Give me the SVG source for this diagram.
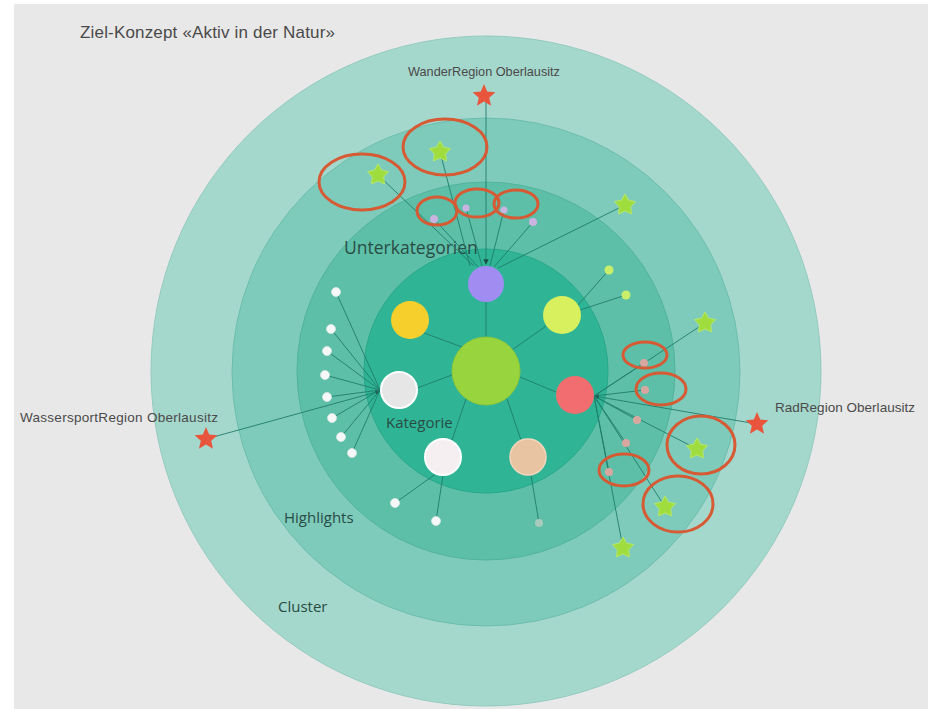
<svg xmlns="http://www.w3.org/2000/svg" width="928" height="709" viewBox="0 0 928 709">
<style>
.lbl{font-family:"Liberation Sans",Arial,sans-serif;fill:#4a4a4a}
.ring{font-family:"Open Sans","Liberation Sans",sans-serif;fill:#284c44}
.c{stroke:#1f7d6b;stroke-width:0.9;fill:none}
.hl{fill:none;stroke:#d65a34;stroke-width:3}
.dotw{fill:#f6f8f7;stroke:#d8e6e2;stroke-width:0.8}
.dotg{fill:#c9ef6a}
.dotp{fill:#c9b3e0}
.dots{fill:#d8a7a0}
</style>
<defs>
<polygon id="starR" points="0,-12 3.2,-4.4 11.4,-3.7 5.2,1.7 7.05,9.7 0,5.5 -7.05,9.7 -5.2,1.7 -11.4,-3.7 -3.2,-4.4" fill="#e8553c"/>
<polygon id="starG" points="0,-11 3.5,-4.8 10.46,-3.4 5.7,1.85 6.47,8.9 0,6 -6.47,8.9 -5.7,1.85 -10.46,-3.4 -3.5,-4.8" fill="#9fdc3e" stroke="#b6e86a" stroke-width="1"/>
<marker id="arr" viewBox="0 0 8 8" refX="7" refY="4" markerWidth="6" markerHeight="6" orient="auto"><path d="M0,0L8,4L0,8z" fill="#1a4f46"/></marker>
</defs>
<rect x="0" y="0" width="928" height="709" fill="#ffffff"/>
<rect x="14" y="4" width="914" height="705" fill="#e8e8e8"/>
<g id="rings">
<circle cx="486" cy="371" r="335" fill="#a5d8cc" stroke="#93cbbe" stroke-width="1"/>
<circle cx="486" cy="372" r="254" fill="#7ecbbb" stroke="#6dbdad" stroke-width="1"/>
<circle cx="486" cy="371" r="189" fill="#5ebfa8" stroke="#52b39d" stroke-width="1"/>
<circle cx="486" cy="371" r="122" fill="#2fb596" stroke="#28a889" stroke-width="1"/>
</g>
<text class="lbl" x="80" y="38" font-size="17" textLength="255">Ziel-Konzept «Aktiv in der Natur»</text>
<text class="ring" x="344" y="254" font-size="17.5">Unterkategorien</text>
<text class="ring" x="386" y="428" font-size="15">Kategorie</text>
<text class="ring" x="284" y="523" font-size="15">Highlights</text>
<text class="ring" x="278" y="612" font-size="15">Cluster</text>
<g id="connectors">
<line class="c" x1="486" y1="337" x2="486" y2="302"/>
<line class="c" x1="462" y1="347" x2="424" y2="333"/>
<line class="c" x1="512" y1="350" x2="546" y2="326"/>
<line class="c" x1="452" y1="375" x2="417" y2="388"/>
<line class="c" x1="520" y1="377" x2="556" y2="392"/>
<line class="c" x1="466" y1="399" x2="452" y2="440"/>
<line class="c" x1="507" y1="399" x2="521" y2="440"/>
<line class="c" x1="486" y1="96" x2="486" y2="264" marker-end="url(#arr)" stroke="#1a5f53"/>
<line class="c" x1="206" y1="439" x2="380" y2="391" marker-end="url(#arr)" stroke="#1a5f53"/>
<line class="c" x1="757" y1="424" x2="594" y2="396" marker-end="url(#arr)" stroke="#1a5f53"/>
<line class="c" x1="478" y1="267" x2="434" y2="219"/>
<line class="c" x1="482" y1="266" x2="466" y2="208"/>
<line class="c" x1="490" y1="266" x2="504" y2="210"/>
<line class="c" x1="494" y1="267" x2="533" y2="222"/>
<line class="c" x1="470" y1="266" x2="440" y2="152"/>
<line class="c" x1="474" y1="266" x2="378" y2="175"/>
<line class="c" x1="498" y1="268" x2="625" y2="205"/>
<line class="c" x1="380" y1="390" x2="336" y2="292"/>
<line class="c" x1="380" y1="390" x2="331" y2="329"/>
<line class="c" x1="380" y1="390" x2="327" y2="351"/>
<line class="c" x1="380" y1="390" x2="325" y2="375"/>
<line class="c" x1="380" y1="390" x2="327" y2="397"/>
<line class="c" x1="380" y1="390" x2="332" y2="418"/>
<line class="c" x1="380" y1="390" x2="341" y2="437"/>
<line class="c" x1="380" y1="390" x2="352" y2="453"/>
<line class="c" x1="578" y1="305" x2="609" y2="270"/>
<line class="c" x1="580" y1="310" x2="626" y2="295"/>
<line class="c" x1="594" y1="396" x2="644" y2="363"/>
<line class="c" x1="594" y1="396" x2="645" y2="390"/>
<line class="c" x1="594" y1="396" x2="637" y2="420"/>
<line class="c" x1="594" y1="396" x2="626" y2="443"/>
<line class="c" x1="594" y1="396" x2="609" y2="472"/>
<line class="c" x1="594" y1="396" x2="705" y2="323"/>
<line class="c" x1="594" y1="396" x2="697" y2="449"/>
<line class="c" x1="594" y1="396" x2="665" y2="507"/>
<line class="c" x1="594" y1="396" x2="623" y2="548"/>
<line class="c" x1="437" y1="473" x2="395" y2="503"/>
<line class="c" x1="443" y1="475" x2="436" y2="521"/>
<line class="c" x1="531" y1="475" x2="539" y2="523"/>
</g>
<g id="center"><circle cx="486" cy="371" r="34" fill="#98d43d" stroke="#8cc63a" stroke-width="1"/></g>
<g id="cat-purple"><circle cx="486" cy="284" r="18" fill="#a18cf2"/></g>
<g id="cat-yellow"><circle cx="410" cy="320" r="19" fill="#f7cf2c"/></g>
<g id="cat-lime"><circle cx="562" cy="315" r="19" fill="#d8ef5e"/></g>
<g id="cat-grey"><circle cx="399" cy="390" r="18" fill="#e6e6e6" stroke="#ffffff" stroke-width="2"/></g>
<g id="cat-red"><circle cx="575" cy="395" r="19" fill="#f26d6f"/></g>
<g id="cat-white"><circle cx="443" cy="457" r="18" fill="#f5eff1" stroke="#ffffff" stroke-width="2"/></g>
<g id="cat-peach"><circle cx="528" cy="457" r="18" fill="#e9c4a2" stroke="#f1d6bd" stroke-width="1.5"/></g>
<g id="sub-white">
<circle class="dotw" cx="336" cy="292" r="4.5"/>
<circle class="dotw" cx="331" cy="329" r="4.5"/>
<circle class="dotw" cx="327" cy="351" r="4.5"/>
<circle class="dotw" cx="325" cy="375" r="4.5"/>
<circle class="dotw" cx="327" cy="397" r="4.5"/>
<circle class="dotw" cx="332" cy="418" r="4.5"/>
<circle class="dotw" cx="341" cy="437" r="4.5"/>
<circle class="dotw" cx="352" cy="453" r="4.5"/>
<circle class="dotw" cx="395" cy="503" r="4.5"/>
<circle class="dotw" cx="436" cy="521" r="4.5"/>
</g>
<g id="sub-other">
<circle class="dotg" cx="609" cy="270" r="4.5"/>
<circle class="dotg" cx="626" cy="295" r="4.5"/>
<circle class="dotp" cx="434" cy="219" r="4"/>
<circle class="dotp" cx="466" cy="208" r="3.5"/>
<circle class="dotp" cx="504" cy="210" r="3.5"/>
<circle class="dotp" cx="533" cy="222" r="4"/>
<circle class="dots" cx="644" cy="363" r="4"/>
<circle class="dots" cx="645" cy="390" r="4"/>
<circle class="dots" cx="637" cy="420" r="4"/>
<circle class="dots" cx="626" cy="443" r="4"/>
<circle class="dots" cx="609" cy="472" r="4"/>
<circle cx="539" cy="523" r="4" fill="#a9c9bd"/>
</g>
<g id="highlights">
<use href="#starG" x="440" y="152"/>
<use href="#starG" x="378" y="175"/>
<use href="#starG" x="625" y="205"/>
<use href="#starG" x="705" y="323"/>
<use href="#starG" x="697" y="449"/>
<use href="#starG" x="665" y="507"/>
<use href="#starG" x="623" y="548"/>
</g>
<g id="region-wander"><use href="#starR" x="484" y="96"/><text class="lbl" x="484" y="76" font-size="12.7" text-anchor="middle">WanderRegion Oberlausitz</text></g>
<g id="region-wasser"><use href="#starR" x="206" y="439"/><text class="lbl" x="20" y="422" font-size="13.5" textLength="198">WassersportRegion Oberlausitz</text></g>
<g id="region-rad"><use href="#starR" x="757" y="424"/><text class="lbl" x="775" y="412" font-size="13.5" textLength="140">RadRegion Oberlausitz</text></g>
<g id="marks">
<ellipse class="hl" cx="445" cy="147" rx="42" ry="28"/>
<ellipse class="hl" cx="362" cy="182" rx="43" ry="28"/>
<ellipse class="hl" cx="437" cy="211" rx="20" ry="14"/>
<ellipse class="hl" cx="477" cy="203" rx="22" ry="14"/>
<ellipse class="hl" cx="516" cy="204" rx="22" ry="14"/>
<ellipse class="hl" cx="645" cy="355" rx="22" ry="13"/>
<ellipse class="hl" cx="661" cy="389" rx="25" ry="16"/>
<ellipse class="hl" cx="701" cy="445" rx="34" ry="29"/>
<ellipse class="hl" cx="624" cy="470" rx="25" ry="16"/>
<ellipse class="hl" cx="678" cy="504" rx="35" ry="28"/>
</g>
</svg>
